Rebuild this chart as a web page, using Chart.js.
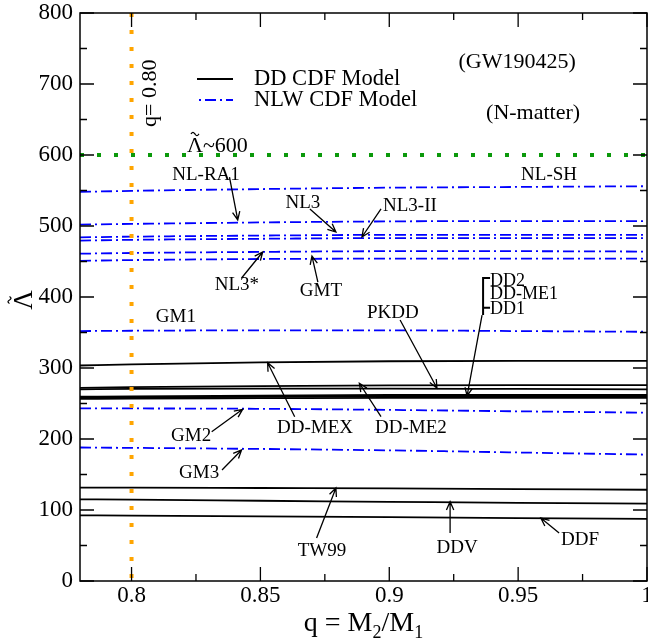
<!DOCTYPE html>
<html><head><meta charset="utf-8">
<script src="https://cdn.jsdelivr.net/npm/chart.js@4.4.0/dist/chart.umd.min.js"></script>
<style>html,body{margin:0;padding:0;background:#fff}#wrap{width:648px;height:642px}</style>
</head><body><div id="wrap"><canvas id="c" width="648" height="642"></canvas></div>
<script>
// ---- data ----
const qValues = [0.78, 0.80, 0.85, 0.90, 0.95, 1.00];
// NLW CDF models (blue dash-dot)
const NL_SH  = [548, 549.5, 552, 554, 555, 556];
const NL_RA1 = [502, 503, 505, 506.5, 507, 507];
const NL3    = [484, 485, 486.5, 487.5, 487.5, 487.5];
const NL3_II = [479.5, 480.5, 482, 483, 483, 483];
const NL3s   = [461, 462, 463.5, 464.5, 464.5, 464];
const GMT    = [451, 452, 453.5, 454, 454, 454];
const GM1    = [352, 352.5, 353, 353, 352, 351];
const GM2    = [243, 243, 242.5, 241, 239, 237];
const GM3    = [188, 187.5, 186, 184, 181, 178];
// DD CDF models (black solid)
const DD_MEX = [303.5, 305, 308, 309.5, 310, 310];
const DD_ME2 = [272, 273, 274.5, 275.5, 276, 276];
const PKDD   = [270, 270.5, 271, 271, 270.5, 270];
const DD2    = [259.5, 260, 261, 262, 262, 262];
const DD_ME1 = [258, 258.5, 259.5, 260, 260, 260];
const DD1    = [256.5, 257, 257.5, 258, 258, 258];
const TW99   = [131.5, 131.5, 131, 130.5, 129.5, 128.5];
const DDV    = [115, 114.5, 113, 111.5, 110, 109];
const DDF    = [92.5, 92, 91, 90, 88.5, 87.5];
// reference lines
const qLine = 0.80;
const lambdaLine = 600;
// axes
const xMin = 0.78, xMax = 1.0, yMin = 0, yMax = 800;
const xTicks = [0.8, 0.85, 0.9, 0.95, 1];
const xMinorTicks = [0.825, 0.875, 0.925, 0.975];
const yTicks = [0, 100, 200, 300, 400, 500, 600, 700, 800];
const yMinorTicks = [50, 150, 250, 350, 450, 550, 650, 750];
const legendLabels = ['DD CDF Model', 'NLW CDF Model'];

// ---- annotations (data coordinates) ----
const labels = [
  {t:'(GW190425)', x:0.9496, y:731, s:22},
  {t:'(N-matter)', x:0.9558, y:659, s:22},
  {t:'NL-RA1', x:0.8289, y:572, s:19},
  {t:'NL-SH', x:0.962, y:572, s:19},
  {t:'NL3', x:0.8665, y:532, s:19},
  {t:'NL3-II', x:0.908, y:528, s:19},
  {t:'NL3*', x:0.8409, y:417, s:19},
  {t:'GMT', x:0.8735, y:408.5, s:19},
  {t:'DD2', x:0.9391, y:422.5, s:18, a:'left'},
  {t:'DD-ME1', x:0.9391, y:403.8, s:18, a:'left'},
  {t:'DD1', x:0.9391, y:383, s:18, a:'left'},
  {t:'PKDD', x:0.9014, y:377.5, s:19},
  {t:'GM1', x:0.8172, y:371.8, s:19},
  {t:'DD-MEX', x:0.8712, y:215.5, s:19},
  {t:'DD-ME2', x:0.9084, y:215.5, s:19},
  {t:'GM2', x:0.8231, y:204.2, s:19},
  {t:'GM3', x:0.8262, y:152, s:19},
  {t:'TW99', x:0.8739, y:42.3, s:19},
  {t:'DDV', x:0.9263, y:46.5, s:19},
  {t:'DDF', x:0.974, y:57.7, s:19}
];
const lambdaLabel = {t:'~600', x:0.8215, y:615.5, s:22};
const arrows = [
  [0.838,569, 0.8412,508.5],
  [0.8692,524, 0.8793,491.5],
  [0.8968,524, 0.8894,484.5],
  [0.8427,426.8, 0.8509,463.4],
  [0.8723,421, 0.870,457.7],
  [0.936,374.6, 0.9302,260.6],
  [0.9042,367.6, 0.9185,271.8],
  [0.8633,231.4, 0.8528,307.5],
  [0.8968,231.4, 0.8884,278.5],
  [0.8311,210.3, 0.8431,241.8],
  [0.8351,156.3, 0.8427,184.5],
  [0.8718,60.6, 0.8793,131],
  [0.9236,67.6, 0.9236,111.7],
  [0.9659,67.6, 0.9588,88.7]
];
const bracket = {x:0.9364, x2:0.9391, top:426.8, bottom:374.6, mid:385};

const FONT = "'Liberation Serif', 'Times New Roman', serif";
const BLUE = '#0000ff';
const DASHDOT = [11, 4, 2, 4];

function mk(vals){ return qValues.map((q,i)=>({x:q, y:vals[i]})); }
const nlw = [NL_SH, NL_RA1, NL3, NL3_II, NL3s, GMT, GM1, GM2, GM3];
const dd = [DD_MEX, DD_ME2, PKDD, DD2, DD_ME1, DD1, TW99, DDV, DDF];

const datasets = [];
datasets.push({data:[{x:qLine,y:yMax},{x:qLine,y:yMin}], borderColor:'#ffa500', borderWidth:4, borderDash:[4,13], borderCapStyle:'butt', pointRadius:0, order:0, tension:0});
datasets.push({data:[{x:xMin,y:lambdaLine},{x:xMax,y:lambdaLine}], borderColor:'#0b990b', borderWidth:4, borderDash:[4,13], borderCapStyle:'butt', pointRadius:0, order:0, tension:0});
nlw.forEach(v=>datasets.push({data:mk(v), borderColor:BLUE, borderWidth:1.8, borderDash:DASHDOT, pointRadius:0, cubicInterpolationMode:'monotone', order:2}));
dd.forEach(v=>datasets.push({data:mk(v), borderColor:'#000', borderWidth:1.8, pointRadius:0, cubicInterpolationMode:'monotone', order:1}));

function tilde(ctx, cx, cy, w, amp){
  ctx.beginPath();
  for(let i=0;i<=20;i++){ const t=i/20; const x=cx-w/2+t*w, y=cy-amp*Math.sin(2*Math.PI*t);
    if(i===0) ctx.moveTo(x,y); else ctx.lineTo(x,y); }
  ctx.stroke();
}

const deco = {
  id:'deco',
  afterDatasetsDraw(chart){
    const ctx = chart.ctx, xs = chart.scales.x, ys = chart.scales.y, ca = chart.chartArea;
    const X = v=>xs.getPixelForValue(v), Y = v=>ys.getPixelForValue(v);
    ctx.save();
    ctx.strokeStyle = '#000'; ctx.lineWidth = 1.5; ctx.setLineDash([]);
    ctx.strokeRect(ca.left, ca.top, ca.right-ca.left, ca.bottom-ca.top);
    // inner ticks
    ctx.lineWidth = 1.3;
    ctx.beginPath();
    const tk = (arr, len, axis)=>arr.forEach(v=>{
      if(axis==='x'){ const p=X(v); ctx.moveTo(p,ca.bottom); ctx.lineTo(p,ca.bottom-len); ctx.moveTo(p,ca.top); ctx.lineTo(p,ca.top+len); }
      else { const p=Y(v); ctx.moveTo(ca.left,p); ctx.lineTo(ca.left+len,p); ctx.moveTo(ca.right,p); ctx.lineTo(ca.right-len,p); }
    });
    tk(xTicks,14,'x'); tk(xMinorTicks,7,'x'); tk(yTicks,14,'y'); tk(yMinorTicks,7,'y');
    ctx.stroke();
    // labels
    ctx.fillStyle = '#000'; ctx.textBaseline = 'middle';
    labels.forEach(l=>{ ctx.font = l.s+'px '+FONT; ctx.textAlign = l.a||'center'; ctx.fillText(l.t, X(l.x), Y(l.y)); });
    // Lambda-tilde ~600 label
    ctx.font = lambdaLabel.s+'px '+FONT; ctx.textAlign='left'; ctx.textBaseline='alphabetic';
    const lx = X(lambdaLabel.x), lb = Y(lambdaLabel.y)+8;
    ctx.fillText('\u039B', lx, lb);
    const lw = ctx.measureText('\u039B').width;
    ctx.fillText(lambdaLabel.t, lx+lw, lb);
    ctx.lineWidth = 1.2; tilde(ctx, lx+lw/2, lb-18, 8, 1.6);
    ctx.textBaseline = 'middle';
    // arrows
    ctx.lineWidth = 1.3;
    arrows.forEach(a=>{
      const x1=X(a[0]), y1=Y(a[1]), x2=X(a[2]), y2=Y(a[3]);
      const ang = Math.atan2(y2-y1, x2-x1), h=9, w=0.42;
      ctx.beginPath(); ctx.moveTo(x1,y1); ctx.lineTo(x2,y2);
      ctx.moveTo(x2-h*Math.cos(ang-w), y2-h*Math.sin(ang-w)); ctx.lineTo(x2,y2);
      ctx.lineTo(x2-h*Math.cos(ang+w), y2-h*Math.sin(ang+w));
      ctx.stroke();
    });
    // bracket
    ctx.lineWidth = 2;
    ctx.beginPath();
    ctx.moveTo(X(bracket.x2), Y(bracket.top)); ctx.lineTo(X(bracket.x), Y(bracket.top));
    ctx.lineTo(X(bracket.x), Y(bracket.bottom));
    ctx.moveTo(X(bracket.x), Y(bracket.mid)); ctx.lineTo(X(bracket.x2), Y(bracket.mid));
    ctx.stroke();
    // rotated q label
    ctx.save(); ctx.translate(X(0.8072), Y(687)); ctx.rotate(-Math.PI/2);
    ctx.font = '22px '+FONT; ctx.textAlign='center'; ctx.fillText('q= 0.80',0,0); ctx.restore();
    // y title: rotated Lambda with tilde
    ctx.save(); ctx.translate(23, (ca.top+ca.bottom)/2+3); ctx.rotate(-Math.PI/2);
    ctx.font = '27px '+FONT; ctx.textAlign='center'; ctx.textBaseline='alphabetic';
    ctx.fillText('\u039B', 0, 9);
    ctx.lineWidth = 1.2; tilde(ctx, 0, -13.5, 7, 1.5);
    ctx.restore();
    // legend
    ctx.font = '22.5px '+FONT; ctx.textAlign='left'; ctx.textBaseline='middle';
    ctx.lineWidth = 1.8;
    ctx.strokeStyle = '#000'; ctx.setLineDash([]);
    ctx.beginPath(); ctx.moveTo(197,79); ctx.lineTo(233,79); ctx.stroke();
    ctx.fillText(legendLabels[0], 254, 79);
    ctx.strokeStyle = BLUE; ctx.setLineDash(DASHDOT); ctx.lineDashOffset = 13;
    ctx.beginPath(); ctx.moveTo(197,100); ctx.lineTo(233,100); ctx.stroke();
    ctx.setLineDash([]);
    ctx.fillText(legendLabels[1], 254, 100);
    // x title with subscripts
    const cx = (ca.left+ca.right)/2, ty = 631;
    const parts = [['q = M',28,0],['2',18,7],['/M',28,0],['1',18,7]];
    let tw=0; parts.forEach(p=>{ctx.font=p[1]+'px '+FONT; tw+=ctx.measureText(p[0]).width;});
    let px = cx - tw/2;
    ctx.textBaseline='alphabetic';
    parts.forEach(p=>{ctx.font=p[1]+'px '+FONT; ctx.fillText(p[0], px, ty+p[2]); px+=ctx.measureText(p[0]).width;});
    ctx.restore();
  }
};

new Chart(document.getElementById('c'), {
  type:'line',
  data:{datasets},
  options:{
    responsive:false, animation:false, devicePixelRatio:1,
    layout:{padding:{top:13, right:1, bottom:0, left:0}},
    plugins:{legend:{display:false}, tooltip:{enabled:false}},
    scales:{
      x:{type:'linear', min:xMin, max:xMax,
        grid:{display:false, drawTicks:false, tickLength:0}, border:{display:false},
        ticks:{font:{family:FONT, size:23}, color:'#000', padding:1, maxRotation:0,
          callback:v=>String(v)},
        afterBuildTicks:s=>{ s.ticks = xTicks.map(v=>({value:v})); },
        afterFit:s=>{ s.height = 61; s.paddingLeft = 0; s.paddingRight = 0; }
      },
      y:{type:'linear', min:yMin, max:yMax,
        grid:{display:false, drawTicks:false, tickLength:0}, border:{display:false},
        ticks:{font:{family:FONT, size:23}, color:'#000', padding:7},
        afterBuildTicks:s=>{ s.ticks = yTicks.map(v=>({value:v})); },
        afterFit:s=>{ s.width = 80; s.paddingTop = 0; s.paddingBottom = 0; }
      }
    }
  },
  plugins:[deco]
});
</script></body></html>
